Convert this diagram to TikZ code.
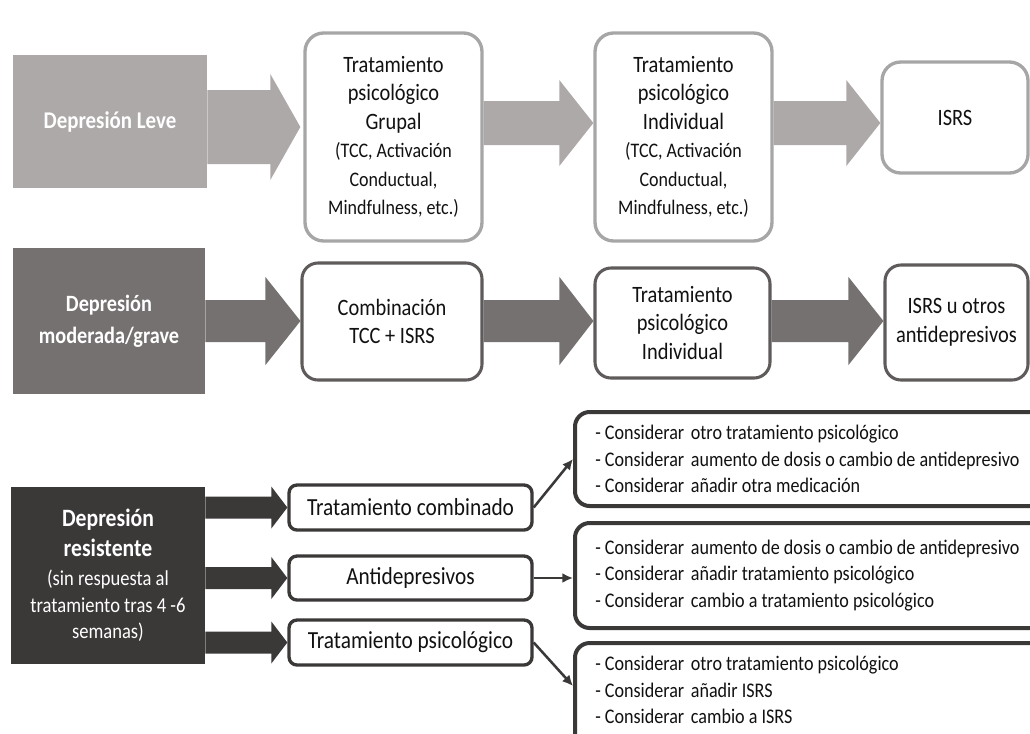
\documentclass[tikz,border=0pt]{standalone}
\usepackage{fontspec}
\setmainfont{Carlito}[FakeStretch=0.87]
\usetikzlibrary{calc,arrows.meta}
\definecolor{gL}{HTML}{ADA9A8}
\definecolor{gLb}{HTML}{A6A6A6}
\definecolor{gM}{HTML}{767171}
\definecolor{gMb}{HTML}{5F5B5B}
\definecolor{gD}{HTML}{3B3838}
\definecolor{txt}{HTML}{111111}
\newcommand\smf{\fontsize{15.5}{21.4}\selectfont}
\newcommand\consid{- Considerar\hspace{0.32em}}
% style, from, to, shaft half, head half, head length
\newcommand\fatarrow[6]{%
  \fill[#1] ($(#2)+(0,#4)$) -- ($(#3)+(-#6,#4)$) -- ($(#3)+(-#6,#5)$) -- (#3)
    -- ($(#3)+(-#6,-#5)$) -- ($(#3)+(-#6,-#4)$) -- ($(#2)+(0,-#4)$) -- cycle;}
\tikzset{
  base/.style={inner sep=0pt, align=center, text=txt},
  headL/.style={base, fill=gL, text=white, font=\fontsize{18}{22}\selectfont\bfseries},
  headM/.style={base, fill=gM, text=white, font=\fontsize{17.5}{24}\selectfont\bfseries},
  headD/.style={base, fill=gD, text=white, font=\fontsize{16}{19.9}\selectfont},
  boxL/.style={base, draw=gLb, line width=2.5pt, rounded corners=14pt, fill=white,
    font=\fontsize{17.6}{21.4}\selectfont},
  boxM/.style={base, draw=gMb, line width=2.3pt, rounded corners=12pt, fill=white,
    font=\fontsize{17.6}{21.4}\selectfont},
  boxS/.style={base, draw=gD, line width=2.5pt, rounded corners=6pt, fill=white,
    minimum width=182.25pt, font=\fontsize{18.4}{22}\selectfont},
  boxB/.style={draw=gD, line width=3pt, rounded corners=11pt, fill=white,
    minimum width=356.25pt},
  listtxt/.style={base, align=left, anchor=west, font=\fontsize{15.6}{19.9}\selectfont},
  conn/.style={draw=gD, line width=1.9pt, -{Latex[length=8pt,width=7.5pt]}},
}
\begin{document}
\begin{tikzpicture}[x=0.75pt,y=-0.75pt]
\useasboundingbox (0,0) rectangle (1030,733);
\clip (0,0) rectangle (1030,733);
% ---------- row 1
\node[headL, minimum width=145.5pt, minimum height=99.75pt] (leve) at (110,121.5) {Depresión Leve};
\node[boxL, minimum width=132.75pt, minimum height=156pt] (b11) at (393.5,137)
  {Tratamiento\\psicológico\\Grupal\\{\smf (TCC, Activación}\\{\smf Conductual,}\\{\smf Mindfulness, etc.)}};
\node[boxL, minimum width=132.75pt, minimum height=156pt] (b12) at (683.5,137)
  {Tratamiento\\psicológico\\Individual\\{\smf (TCC, Activación}\\{\smf Conductual,}\\{\smf Mindfulness, etc.)}};
\node[boxL, minimum width=109.5pt, minimum height=83.25pt] (b13) at (955,117.5) {ISRS};
\coordinate (r1) at (0,127);
\coordinate (r1b) at (0,123);
\coordinate (a1s) at (leve.east |- r1);
\coordinate (a1e) at ($(b11.west |- r1)+(-3,0)$);
\coordinate (a2s) at (b11.east |- r1b);
\coordinate (a2e) at (b12.west |- r1b);
\coordinate (a3s) at (b12.east |- r1b);
\coordinate (a3e) at (b13.west |- r1b);
\fatarrow{gL}{a1s}{a1e}{37}{53}{30}
\fatarrow{gL}{a2s}{a2e}{22}{43}{34}
\fatarrow{gL}{a3s}{a3e}{22}{43}{34}
% ---------- row 2
\node[headM, minimum width=144pt, minimum height=109.5pt] (mod) at (109,321) {Depresión\\moderada/grave};
\node[boxM, minimum width=135pt, minimum height=87.75pt] (b21) at (392,321.5) {Combinación\\TCC + ISRS};
\node[boxM, minimum width=131.25pt, minimum height=82.5pt] (b22) at (682.5,323) {Tratamiento\\psicológico\\Individual};
\node[boxM, minimum width=107.25pt, minimum height=86.25pt] (b23) at (956.5,322.5) {ISRS u otros\\antidepresivos};
\coordinate (r2) at (0,321);
\coordinate (b1s) at (mod.east |- r2);
\coordinate (b1e) at (b21.west |- r2);
\coordinate (b2s) at (b21.east |- r2);
\coordinate (b2e) at (b22.west |- r2);
\coordinate (b3s) at (b22.east |- r2);
\coordinate (b3e) at (b23.west |- r2);
\fatarrow{gM}{b1s}{b1e}{21}{44}{35}
\fatarrow{gM}{b2s}{b2e}{21}{44}{34}
\fatarrow{gM}{b3s}{b3e}{21}{44}{35}
% ---------- row 3
\node[headD, minimum width=145.5pt, minimum height=132.75pt] (res) at (108,575.5)
  {{\fontsize{18.7}{22}\selectfont\bfseries Depresión}\\[2.6pt]{\fontsize{18.7}{22}\selectfont\bfseries resistente}\\[1.8pt](sin respuesta al\\tratamiento tras 4 -6\\semanas)};
\node[boxS, minimum height=33.75pt] (s1) at (410.5,507.5) {Tratamiento combinado};
\node[boxS, minimum height=33pt] (s2) at (410.5,578) {Antidepresivos};
\node[boxS, minimum height=33.75pt] (s3) at (410.5,642.5) {Tratamiento psicológico};
\coordinate (c1s) at (res.east |- s1.west);
\coordinate (c2s) at (res.east |- s2.west);
\coordinate (c3s) at (res.east |- s3.west);
\fatarrow{gD}{c1s}{s1.west}{11}{21}{16}
\fatarrow{gD}{c2s}{s2.west}{11}{21}{16}
\fatarrow{gD}{c3s}{s3.west}{11}{21}{16}
\node[boxB, minimum height=70.5pt] (bA) at (812.5,459) {};
\node[boxB, minimum height=78.75pt] (bB) at (812.5,575.5) {};
\node[boxB, minimum height=102.75pt] (bC) at (812.5,711.5) {};
\node[listtxt] (tA) at ($(bA.west)+(22,0)$)
  {\consid otro tratamiento psicológico\\\consid aumento de dosis o cambio de antidepresivo\\\consid añadir otra medicación};
\node[listtxt] (tB) at ($(bB.west)+(22,0)$)
  {\consid aumento de dosis o cambio de antidepresivo\\\consid añadir tratamiento psicológico\\\consid cambio a tratamiento psicológico};
\node[listtxt] (tC) at ($(bC.north west)+(22,49)$)
  {\consid otro tratamiento psicológico\\\consid añadir ISRS\\\consid cambio a ISRS};
\coordinate (cIn) at ($(bC.north west)+(0,45)$);
\draw[conn] (s1.east) -- (bA.west);
\draw[conn] (s2.east) -- (s2.east -| bB.west);
\draw[conn] (s3.east) -- (cIn);
\end{tikzpicture}
\end{document}
